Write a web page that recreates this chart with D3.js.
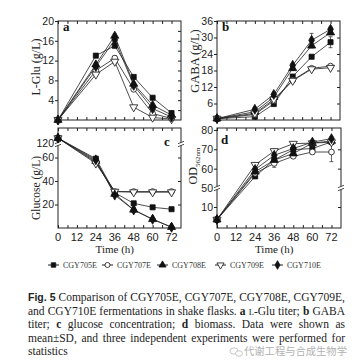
<!DOCTYPE html>
<html><head><meta charset="utf-8">
<script src="https://cdn.jsdelivr.net/npm/d3@7"></script>
<style>body{margin:0;background:#fff}svg{display:block}</style>
</head><body>
<svg id="c" width="355" height="364"></svg>
<script>
// ---------------- data ----------------
const times = [0, 24, 36, 48, 60, 72];
const strains = ["CGY705E", "CGY707E", "CGY708E", "CGY709E", "CGY710E"];
const markers = ["square", "circle", "triangle", "triangleDown", "diamond"];
const markerFilled = [true, false, true, false, true];

// Panel a: L-Glu titer (g/L), one row per strain
const lGlu = [
  [0, 13.0, 15.0, 8.7, 4.5, 1.4],
  [0, 10.0, 12.5, 6.2, 1.3, 0.3],
  [0, 11.2, 17.0, 7.3, 3.0, 1.0],
  [0, 9.2, 11.8, 2.6, 0.5, 0.2],
  [0, 10.8, 16.2, 7.0, 2.3, 0.6]
];
const lGluErr = [
  [0, 0.3, 0.4, 0.3, 0.3, 0.2],
  [0, 0.3, 0.5, 0.3, 0.2, 0.1],
  [0, 0.3, 0.4, 0.3, 0.2, 0.1],
  [0, 0.3, 0.4, 0.3, 0.2, 0.1],
  [0, 0.3, 0.4, 0.3, 0.2, 0.1]
];
// Panel b: GABA titer (g/L)
const gaba = [
  [0.5, 1.2, 5.8, 15.8, 23.0, 28.3],
  [0.5, 2.0, 7.0, 14.5, 18.8, 19.6],
  [0.5, 3.0, 8.3, 18.8, 27.0, 31.8],
  [0.5, 2.4, 7.5, 14.3, 18.5, 19.0],
  [0.5, 3.9, 9.3, 19.9, 29.0, 33.0]
];
const gabaErr = [
  [0, 0.3, 0.4, 0.6, 0.6, 2.0],
  [0, 0.3, 0.4, 0.4, 0.4, 0.6],
  [0, 0.3, 0.4, 0.6, 0.8, 0.8],
  [0, 0.3, 0.4, 0.4, 0.4, 0.5],
  [0, 0.3, 0.4, 0.6, 2.5, 0.8]
];
// Panel c: glucose (g/L)
const glucose = [
  [124, 59, 30, 21, 17.6, 16],
  [124, 56, 31, 31, 31, 31],
  [124, 57, 29, 15.5, 7.5, 0.8],
  [124, 55, 31, 30.5, 30.5, 30.5],
  [124, 58, 28, 15.3, 7.4, 0.6]
];
const glucoseErr = [
  [1, 1, 1, 1, 1, 0.8],
  [1, 1, 1, 1, 1, 1],
  [1, 1, 1, 1.5, 1, 0.5],
  [1, 1, 1, 1, 1, 1],
  [1, 1, 1, 1.5, 1, 0.5]
];
// Panel d: biomass OD562nm
const od = [
  [4, 56, 64.5, 69.8, 70.4, 73.8],
  [4, 57.6, 62.7, 66.4, 68.6, 68.6],
  [4, 58.4, 64.4, 67.8, 73.2, 74.3],
  [4, 62, 69.1, 72.9, 73.2, 73.7],
  [4, 59.6, 66.9, 70.4, 73.7, 75.5]
];
const odErr = [
  [0, 0.8, 1.0, 1.0, 1.0, 1.0],
  [0, 1.0, 2.0, 1.0, 1.0, 5.0],
  [0, 0.8, 1.0, 1.0, 1.0, 1.0],
  [0, 0.8, 1.0, 0.8, 0.8, 0.8],
  [0, 0.8, 1.0, 1.0, 1.0, 1.0]
];
const xTicks = [0, 12, 24, 36, 48, 60, 72];
const yTicksA = [4, 8, 12, 16, 20];
const yTicksB = [6, 12, 18, 24, 30, 36];
const yTicksC = [20, 40, 60, 120];
const yTicksD = [10, 50, 60, 70, 80];

// ---------------- drawing ----------------
const svg = d3.select("#c");
const SANS = "'Liberation Sans', Arial, sans-serif";
const SERIF = "'Liberation Serif', 'Times New Roman', serif";
const TICKFS = 10.5;

const symMap = {
  square: d3.symbolSquare, circle: d3.symbolCircle, triangle: d3.symbolTriangle,
  triangleDown: d3.symbolTriangle, diamond: d3.symbolDiamond
};
function drawMarker(g, x, y, i, size) {
  const m = markers[i];
  const s = size || 26;
  g.append("path")
    .attr("d", d3.symbol().type(symMap[m]).size(m === "diamond" ? s * 1.1 : (m.startsWith("tri") ? s * 1.1 : s))())
    .attr("transform", `translate(${x},${y})` + (m === "triangleDown" ? " rotate(180)" : ""))
    .attr("fill", markerFilled[i] ? "#111" : "#fff")
    .attr("stroke", "#111").attr("stroke-width", 0.8);
}

const panels = [
  { key: "a", data: lGlu, err: lGluErr, x0: 58, x1: 181, y0: 21, y1: 120,
    yDom: [0, 20], yRange: [120, 21], yTicks: yTicksA, rightTicks: [2,4,6,8,10,12,14,16,18],
    label: "L-Glu (g/L)", labFs: 12, labX: 40, labY: 67, letter: [63, 31], xLabels: false },
  { key: "b", data: gaba, err: gabaErr, x0: 217, x1: 340, y0: 21, y1: 120,
    yDom: [0, 36], yRange: [120, 21], yTicks: yTicksB, rightTicks: [6,12,18,24,30],
    label: "GABA (g/L)", labFs: 12.5, labX: 198.5, labY: 61, letter: [222, 31], xLabels: false },
  { key: "c", data: glucose, err: glucoseErr, x0: 58, x1: 181, y0: 128, y1: 228,
    yDom: [0, 60, 114, 132.5], yRange: [228, 157.5, 150, 128], yTicks: yTicksC, rightTicks: [20, 40, 60],
    breakY: 144, label: "Glucose (g/L)", labFs: 11.5, labX: 40, labY: 188, letter: [164, 146], xLabels: true },
  { key: "d", data: od, err: odErr, x0: 217, x1: 341, y0: 128, y1: 228,
    yDom: [0, 10, 50, 81], yRange: [228, 207, 188, 128], yTicks: yTicksD, rightTicks: [10, 60, 70],
    breakY: 188, label: null, labFs: 12, labX: 197, labY: 166, letter: [221, 144], xLabels: true }
];

panels.forEach(p => {
  const g = svg.append("g");
  const x = d3.scaleLinear().domain([0, 78]).range([p.x0, p.x1]);
  const y = d3.scaleLinear().domain(p.yDom).range(p.yRange);

  // frame
  g.append("rect").attr("x", p.x0).attr("y", p.y0).attr("width", p.x1 - p.x0).attr("height", p.y1 - p.y0)
    .attr("fill", "none").attr("stroke", "#222").attr("stroke-width", 1);

  // bottom / top axes (ticks inward)
  const xb = d3.axisBottom(x).tickValues(d3.range(0, 73, 6)).tickSize(-3).tickFormat("");
  g.append("g").attr("transform", `translate(0,${p.y1})`).call(xb)
    .call(s => s.select(".domain").remove())
    .call(s => s.selectAll("line").attr("stroke", "#222"));
  const xt = d3.axisTop(x).tickValues(d3.range(0, 73, 6)).tickSize(-3).tickFormat("");
  g.append("g").attr("transform", `translate(0,${p.y0})`).call(xt)
    .call(s => s.select(".domain").remove())
    .call(s => s.selectAll("line").attr("stroke", "#222"));
  if (p.xLabels) {
    g.selectAll(".xl").data(xTicks).join("text")
      .attr("x", d => x(d)).attr("y", p.y1 + 12.5)
      .attr("text-anchor", "middle").attr("font-family", SANS).attr("font-size", 11)
      .attr("fill", "#222").text(d => d);
    g.append("text").attr("x", (x(0) + x(72)) / 2).attr("y", p.y1 + 24.5)
      .attr("text-anchor", "middle").attr("font-family", SERIF).attr("font-size", 11)
      .attr("fill", "#222").text("Time (h)");
  }

  // left axis (outward ticks with labels)
  const yl = d3.axisLeft(y).tickValues(p.yTicks).tickSize(3).tickPadding(1);
  g.append("g").attr("transform", `translate(${p.x0},0)`).call(yl)
    .call(s => s.select(".domain").remove())
    .call(s => s.selectAll("line").attr("stroke", "#222"))
    .call(s => s.selectAll("text").attr("font-family", SANS).attr("font-size", TICKFS).attr("fill", "#222"));
  // right axis (inward ticks)
  const yr = d3.axisRight(y).tickValues(p.rightTicks).tickSize(-3).tickFormat("");
  g.append("g").attr("transform", `translate(${p.x1},0)`).call(yr)
    .call(s => s.select(".domain").remove())
    .call(s => s.selectAll("line").attr("stroke", "#222"));

  // axis breaks
  if (p.breakY) {
    [p.x0, p.x1].forEach(bx => {
      g.append("rect").attr("x", bx - 3).attr("y", p.breakY - 1.5).attr("width", 6).attr("height", 3).attr("fill", "#fff");
      [-1.5, 1.5].forEach(o => g.append("line").attr("x1", bx - 3).attr("x2", bx + 3)
        .attr("y1", p.breakY + o + 1.2).attr("y2", p.breakY + o - 1.2).attr("stroke", "#222").attr("stroke-width", 0.8));
    });
  }

  // y label
  const t = g.append("text").attr("transform", `translate(${p.labX},${p.labY}) rotate(-90)`)
    .attr("text-anchor", "middle").attr("font-family", SERIF).attr("font-size", p.labFs).attr("fill", "#222");
  if (p.label) {
    t.text(p.label);
  } else {
    t.append("tspan").text("OD");
    t.append("tspan").attr("font-size", 7).attr("dy", 3).text("562nm");
  }
  // panel letter
  g.append("text").attr("x", p.letter[0]).attr("y", p.letter[1]).attr("font-family", SERIF)
    .attr("font-weight", "bold").attr("font-size", 13).attr("fill", "#111").text(p.key);

  // series
  const line = d3.line().x((d, i) => x(times[i])).y(d => y(d));
  p.data.forEach(vals => {
    g.append("path").attr("d", line(vals)).attr("fill", "none").attr("stroke", "#222").attr("stroke-width", 0.8);
  });
  p.data.forEach((vals, si) => {
    vals.forEach((v, i) => {
      const e = p.err[si][i];
      if (e > 0) {
        const cx = x(times[i]);
        g.append("line").attr("x1", cx).attr("x2", cx).attr("y1", y(v - e)).attr("y2", y(v + e)).attr("stroke", "#222").attr("stroke-width", 0.7);
        [v - e, v + e].forEach(ev => g.append("line").attr("x1", cx - 2).attr("x2", cx + 2).attr("y1", y(ev)).attr("y2", y(ev)).attr("stroke", "#222").attr("stroke-width", 0.7));
      }
    });
  });
  p.data.forEach((vals, si) => {
    vals.forEach((v, i) => drawMarker(g, x(times[i]), y(v), si));
  });
});

// ---------------- legend ----------------
const legX = [48, 102, 157, 215, 272];
const lg = svg.append("g");
strains.forEach((s, i) => {
  const lx = legX[i];
  lg.append("line").attr("x1", lx).attr("x2", lx + 11).attr("y1", 265).attr("y2", 265).attr("stroke", "#222").attr("stroke-width", 1);
  drawMarker(lg, lx + 5.5, 265, i, 20);
  lg.append("text").attr("x", lx + 15).attr("y", 268).attr("font-family", SERIF).attr("font-size", 8)
    .attr("fill", "#333").text(s);
});

// ---------------- caption ----------------
const cap = svg.append("g");
const captionLines = [
  [[["Fig.", "fb"]], [["5", "fb"]], [["Comparison", "r"]], [["of", "r"]], [["CGY705E,", "r"]], [["CGY707E,", "r"]], [["CGY708E,", "r"]], [["CGY709E,", "r"]]],
  [[["and", "r"]], [["CGY710E", "r"]], [["fermentations", "r"]], [["in", "r"]], [["shake", "r"]], [["flasks.", "r"]], [["a", "b"]], [["L", "sc"], ["-Glu", "r"]], [["titer;", "r"]], [["b", "b"]], [["GABA", "r"]]],
  [[["titer;", "r"]], [["c", "b"]], [["glucose", "r"]], [["concentration;", "r"]], [["d", "b"]], [["biomass.", "r"]], [["Data", "r"]], [["were", "r"]], [["shown", "r"]], [["as", "r"]]],
  [[["mean±SD,", "r"]], [["and", "r"]], [["three", "r"]], [["independent", "r"]], [["experiments", "r"]], [["were", "r"]], [["performed", "r"]], [["for", "r"]]],
  [[["statistics", "r"]]]
];
const capY = [301, 314.5, 328, 341.5, 355];
const capX0 = 28, capX1 = 345;
function styleSpan(sp, st) {
  sp.attr("font-family", st === "fb" ? SANS : SERIF)
    .attr("font-weight", (st === "fb" || st === "b") ? "bold" : "normal")
    .attr("font-size", st === "sc" ? 8.5 : (st === "fb" ? 10.5 : 11.5));
}
captionLines.forEach((words, li) => {
  const els = words.map(w => {
    const t = cap.append("text").attr("y", capY[li]).attr("fill", "#222");
    w.forEach(([txt, st]) => styleSpan(t.append("tspan").text(txt), st));
    return t;
  });
  const widths = els.map(e => e.node().getComputedTextLength());
  const total = d3.sum(widths);
  const justify = li < captionLines.length - 1;
  const gap = justify ? (capX1 - capX0 - total) / (els.length - 1) : 3;
  let cx = capX0;
  els.forEach((e, i) => {
    e.attr("x", cx);
    cx += widths[i] + gap;
  });
});
// watermark
const wm = svg.append("g").attr("opacity", 0.75);
wm.append("ellipse").attr("cx", 234).attr("cy", 351).attr("rx", 4).attr("ry", 3.2).attr("fill", "none").attr("stroke", "#aaa").attr("stroke-width", 0.9);
wm.append("ellipse").attr("cx", 239).attr("cy", 353.5).attr("rx", 3.5).attr("ry", 2.8).attr("fill", "#fff").attr("stroke", "#aaa").attr("stroke-width", 0.9);
wm.append("text").attr("x", 244).attr("y", 355).attr("font-family", "'Noto Sans CJK SC', sans-serif")
  .attr("font-size", 10.3).attr("fill", "#999").text("代谢工程与合成生物学");
</script>
</body></html>
